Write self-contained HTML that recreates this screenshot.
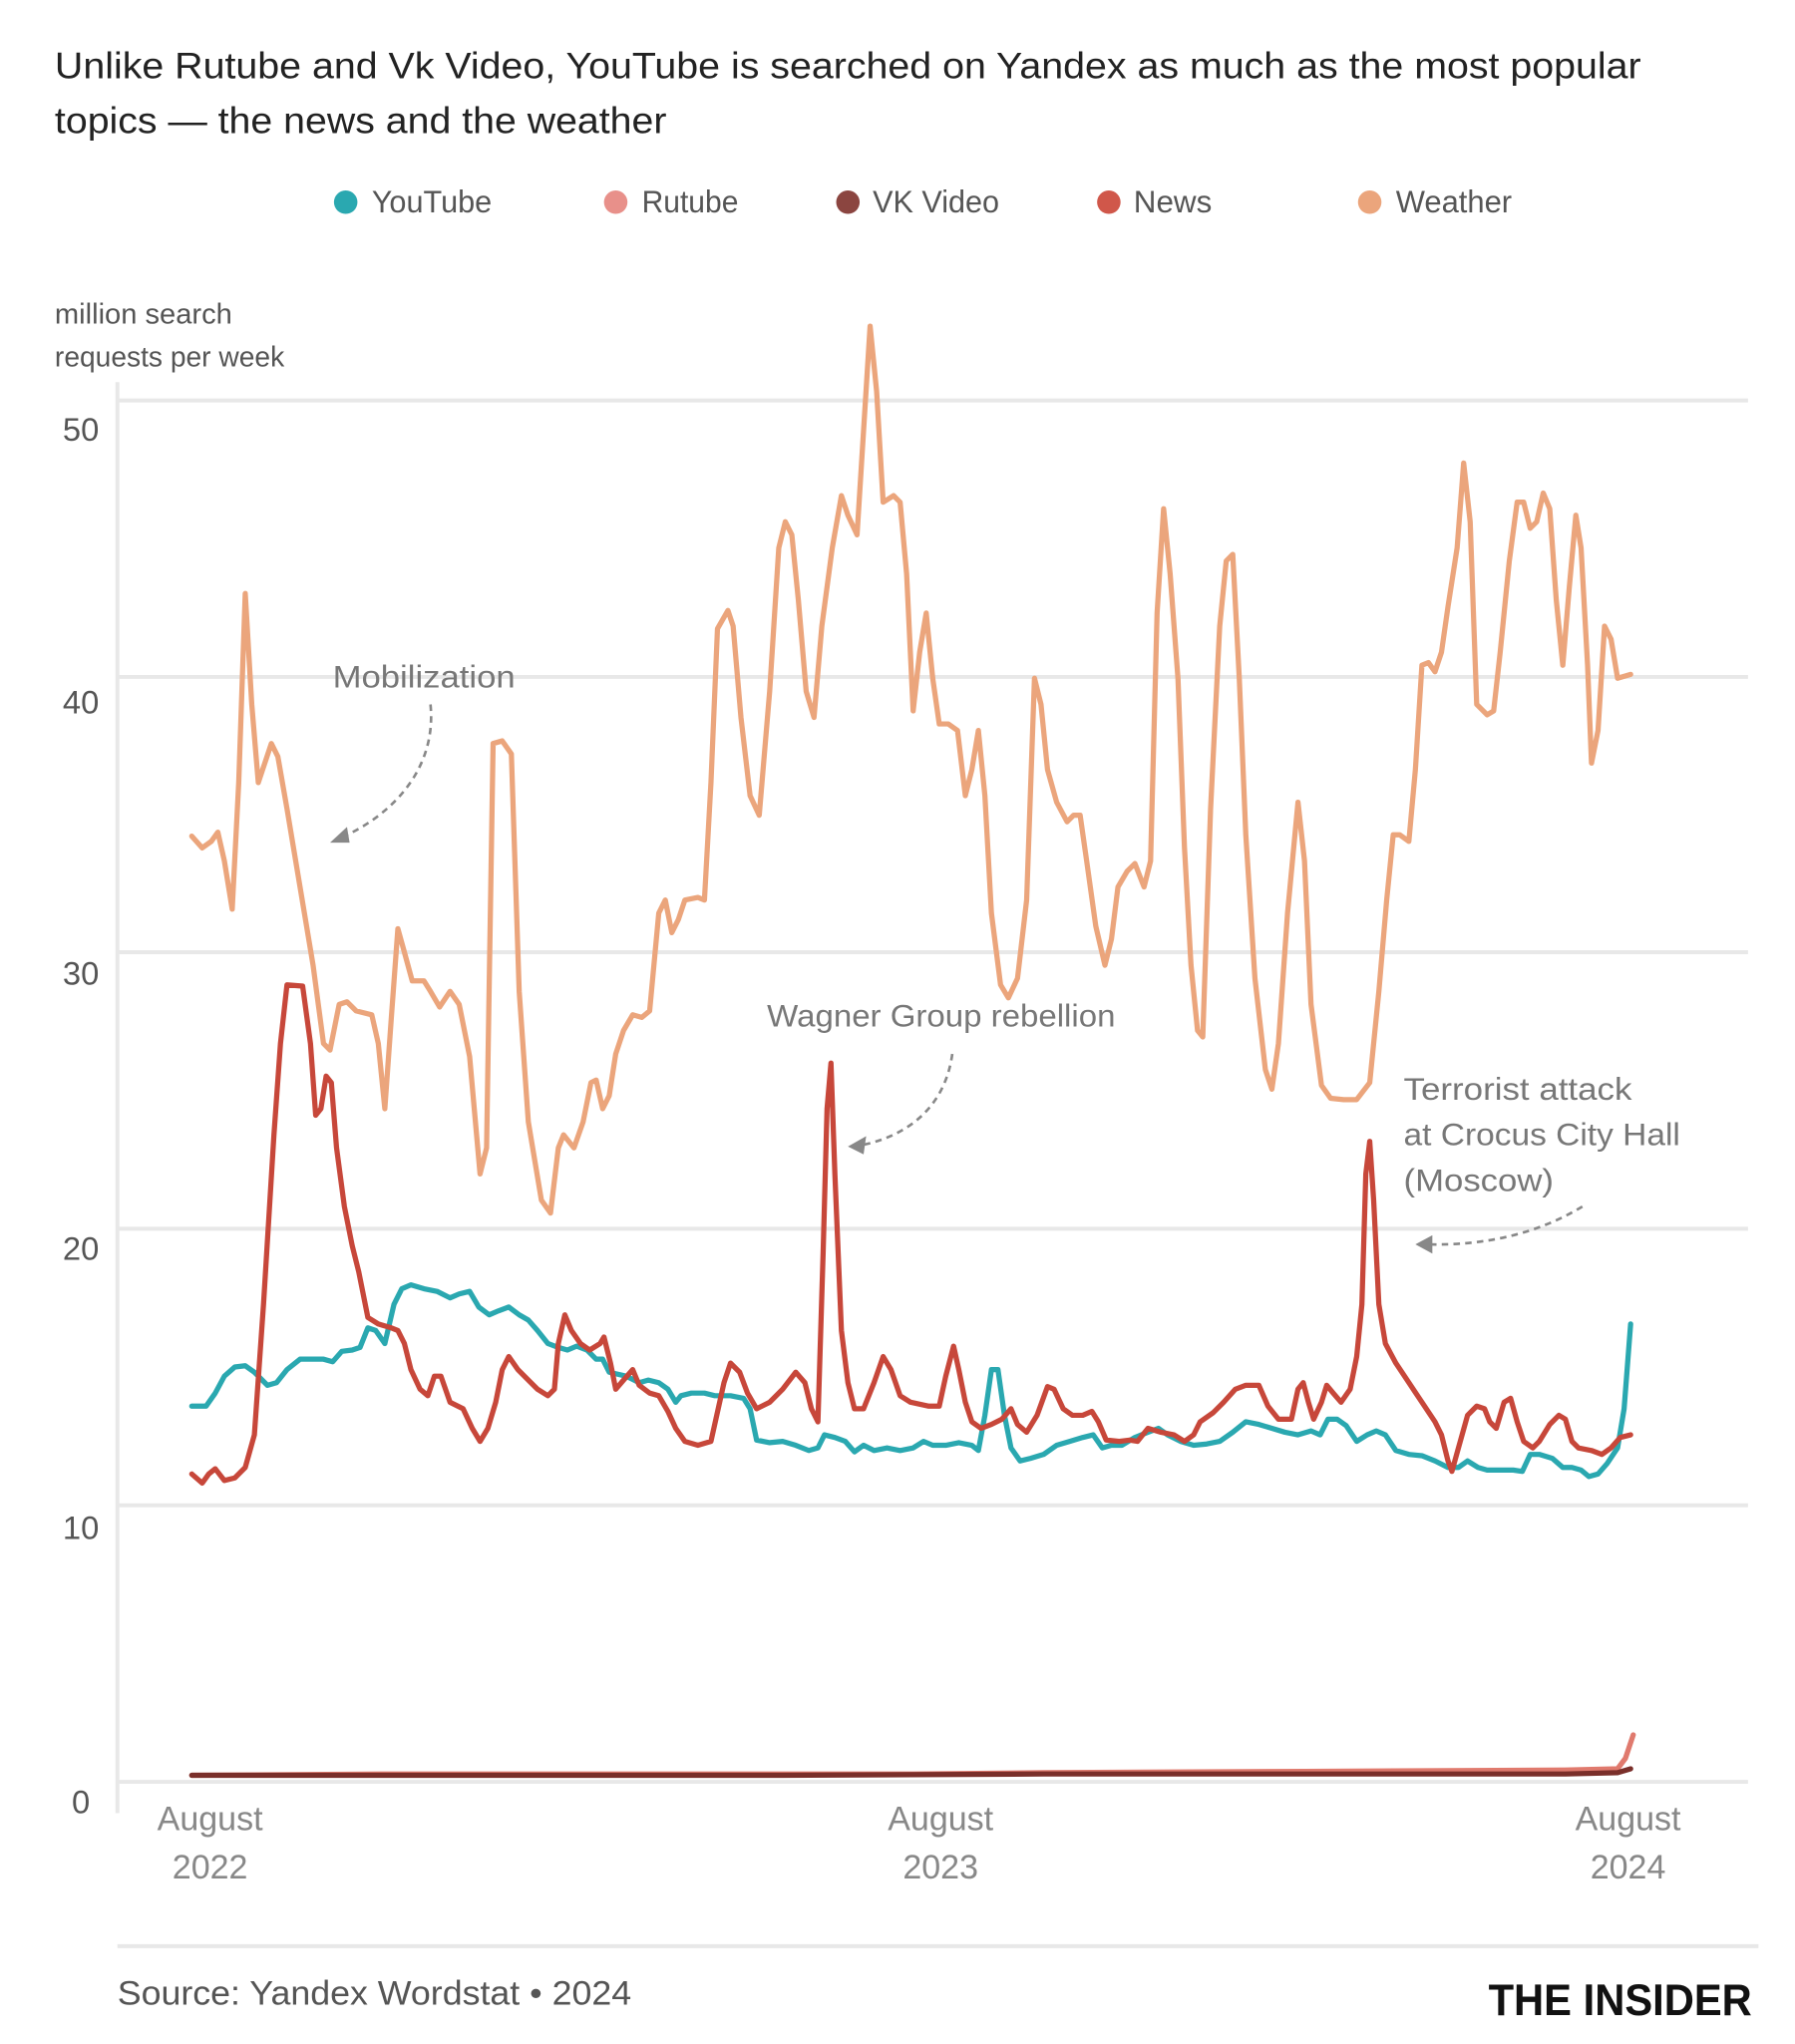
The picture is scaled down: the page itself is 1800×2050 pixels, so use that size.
<!DOCTYPE html>
<html><head><meta charset="utf-8"><style>
html,body{margin:0;padding:0;background:#fff;}
svg{display:block;}
text{font-family:"Liberation Sans",sans-serif;}
</style></head><body>
<svg width="1800" height="2050" viewBox="0 0 1376 1567" preserveAspectRatio="none">
<text x="42" y="60" font-size="28" fill="#222" textLength="1216" lengthAdjust="spacingAndGlyphs">Unlike Rutube and Vk Video, YouTube is searched on Yandex as much as the most popular</text>
<text x="42" y="102" font-size="28" fill="#222" textLength="469" lengthAdjust="spacingAndGlyphs">topics — the news and the weather</text>
<g font-size="24" fill="#555">
<circle cx="265" cy="155" r="9" fill="#2aa8b0"/><text x="285" y="163" textLength="92" lengthAdjust="spacingAndGlyphs">YouTube</text>
<circle cx="472" cy="155" r="9" fill="#e8908a"/><text x="492" y="163" textLength="74" lengthAdjust="spacingAndGlyphs">Rutube</text>
<circle cx="650" cy="155" r="9" fill="#8b4540"/><text x="669" y="163" textLength="97" lengthAdjust="spacingAndGlyphs">VK Video</text>
<circle cx="850" cy="155" r="9" fill="#d0574a"/><text x="869" y="163" textLength="60" lengthAdjust="spacingAndGlyphs">News</text>
<circle cx="1050" cy="155" r="9" fill="#eba57c"/><text x="1070" y="163" textLength="89" lengthAdjust="spacingAndGlyphs">Weather</text>
</g>
<g font-size="22" fill="#555">
<text x="42" y="248" textLength="136" lengthAdjust="spacingAndGlyphs">million search</text>
<text x="42" y="281" textLength="176" lengthAdjust="spacingAndGlyphs">requests per week</text>
</g>
<g stroke="#e8e8e8" stroke-width="3">
<line x1="90" y1="307" x2="1340" y2="307"/><line x1="90" y1="519" x2="1340" y2="519"/>
<line x1="90" y1="730" x2="1340" y2="730"/><line x1="90" y1="942" x2="1340" y2="942"/>
<line x1="90" y1="1154" x2="1340" y2="1154"/><line x1="90" y1="1366" x2="1340" y2="1366"/>
<line x1="90" y1="293" x2="90" y2="1390"/>
<line x1="90" y1="1492" x2="1348" y2="1492"/>
</g>
<g font-size="25" fill="#555" text-anchor="middle">
<text x="62" y="338">50</text><text x="62" y="547">40</text><text x="62" y="755">30</text>
<text x="62" y="966">20</text><text x="62" y="1180">10</text><text x="62" y="1390">0</text>
</g>
<g font-size="26" fill="#888" text-anchor="middle">
<text x="161" y="1403">August</text><text x="161" y="1440">2022</text>
<text x="721" y="1403">August</text><text x="721" y="1440">2023</text>
<text x="1248" y="1403">August</text><text x="1248" y="1440">2024</text>
</g>
<g fill="none" stroke-linejoin="round" stroke-linecap="round">
<polyline stroke="#eba57c" stroke-width="4" points="147,641 155,650 162,645 167,638 172,660 178,697 183,600 188,455 193,540 198,600 203,585 208,570 213,580 220,620 230,680 240,740 248,800 253,805 260,770 266,768 273,775 285,778 290,800 295,850 300,780 305,712 310,730 316,752 325,752 330,760 337,772 345,760 352,770 360,810 368,900 373,880 378,570 385,568 392,578 398,760 405,860 415,920 422,930 428,880 432,870 440,880 447,860 453,830 457,828 462,850 467,840 472,808 478,790 485,778 492,780 498,775 505,700 510,690 515,715 520,705 525,690 535,688 540,690 545,600 550,482 558,468 562,480 568,550 575,610 582,625 590,530 597,420 602,400 607,410 612,460 618,530 624,550 630,480 638,420 645,380 650,395 657,410 662,330 667,250 672,300 677,385 685,380 690,385 695,440 700,545 705,500 710,470 715,520 720,555 727,555 734,560 740,610 745,590 750,560 755,610 760,700 767,755 773,765 780,750 787,690 793,520 798,540 803,590 810,615 818,630 823,625 828,625 833,660 840,710 847,740 852,720 857,680 864,668 870,662 877,680 882,660 887,470 892,390 897,440 903,520 908,650 913,740 918,790 922,795 928,620 935,480 940,430 945,425 950,520 955,640 962,750 970,820 975,835 980,800 987,700 995,615 1000,660 1005,770 1013,832 1020,842 1030,843 1040,843 1050,830 1057,760 1063,690 1068,640 1073,640 1080,645 1085,590 1090,510 1095,508 1100,515 1105,500 1110,465 1117,420 1122,355 1127,400 1132,540 1140,548 1145,545 1150,500 1157,430 1163,385 1168,385 1173,405 1178,400 1183,378 1188,390 1193,460 1198,510 1203,450 1208,395 1212,420 1217,510 1220,585 1225,560 1230,480 1235,490 1240,520 1250,517"/>
<polyline stroke="#2aa8b0" stroke-width="4" points="147,1078 158,1078 165,1068 172,1055 180,1048 188,1047 195,1052 205,1062 212,1060 220,1050 230,1042 240,1042 248,1042 255,1044 262,1036 270,1035 276,1033 282,1018 288,1020 295,1030 302,1000 308,988 315,985 325,988 335,990 345,995 352,992 360,990 367,1002 375,1008 382,1005 390,1002 398,1008 405,1012 412,1020 420,1030 428,1033 435,1035 442,1032 450,1035 457,1042 462,1042 467,1052 480,1055 490,1060 497,1058 505,1060 512,1065 518,1075 522,1070 530,1068 540,1068 548,1070 560,1070 570,1072 575,1080 580,1104 590,1106 600,1105 610,1108 620,1112 627,1110 632,1100 640,1102 648,1105 655,1113 662,1108 670,1112 680,1110 690,1112 700,1110 708,1105 715,1108 725,1108 735,1106 745,1108 750,1112 755,1085 760,1050 765,1050 770,1085 775,1110 782,1120 790,1118 800,1115 810,1108 820,1105 830,1102 838,1100 845,1110 852,1108 860,1108 870,1102 880,1098 888,1095 895,1100 905,1105 915,1108 925,1107 935,1105 945,1098 955,1090 965,1092 975,1095 985,1098 995,1100 1005,1097 1012,1100 1018,1088 1025,1088 1032,1093 1040,1105 1048,1100 1055,1097 1062,1100 1070,1112 1080,1115 1090,1116 1100,1120 1110,1125 1118,1125 1125,1120 1133,1125 1140,1127 1150,1127 1160,1127 1167,1128 1173,1115 1180,1115 1190,1118 1198,1125 1205,1125 1212,1127 1218,1132 1225,1130 1232,1122 1240,1110 1245,1080 1250,1015"/>
<polyline stroke="#c7473a" stroke-width="4" points="147,1130 155,1137 160,1130 165,1126 172,1135 180,1133 188,1125 195,1100 202,1000 210,870 215,800 220,755 232,756 238,800 242,855 246,850 250,825 254,830 258,880 264,925 270,955 275,975 282,1010 290,1015 300,1018 305,1020 310,1030 315,1050 322,1065 328,1070 333,1055 338,1055 345,1075 355,1080 362,1095 368,1105 374,1095 380,1075 385,1050 390,1040 397,1050 405,1058 412,1065 420,1070 425,1065 428,1030 433,1008 438,1020 445,1030 452,1035 460,1030 463,1025 468,1045 472,1065 478,1058 485,1050 490,1062 498,1068 505,1070 512,1082 518,1095 525,1105 535,1108 545,1105 555,1060 560,1045 567,1052 573,1068 580,1080 590,1075 600,1065 610,1052 617,1060 622,1080 627,1090 631,960 634,850 637,815 640,900 645,1020 650,1060 655,1080 662,1080 670,1060 677,1040 683,1050 690,1070 698,1075 712,1078 720,1078 725,1055 731,1032 735,1050 740,1075 745,1090 752,1095 760,1092 768,1088 775,1080 780,1092 787,1098 795,1085 803,1063 808,1065 815,1080 822,1085 830,1085 837,1082 842,1090 848,1104 858,1105 866,1104 872,1105 880,1095 890,1098 900,1100 908,1105 915,1100 920,1090 930,1083 938,1075 947,1065 955,1062 965,1062 972,1078 980,1088 990,1088 995,1065 999,1060 1003,1075 1007,1088 1013,1075 1017,1062 1022,1068 1028,1075 1035,1065 1040,1040 1044,1000 1047,900 1050,875 1053,920 1057,1000 1062,1030 1070,1045 1080,1060 1090,1075 1100,1090 1105,1100 1110,1120 1113,1128 1118,1110 1125,1085 1132,1078 1138,1080 1142,1090 1147,1095 1153,1075 1158,1072 1163,1090 1168,1105 1175,1110 1180,1105 1188,1092 1195,1085 1200,1088 1205,1105 1210,1110 1220,1112 1228,1115 1235,1110 1242,1102 1250,1100"/>
<polyline stroke="#e07a6e" stroke-width="4" points="147,1361 300,1360 500,1360 700,1360 800,1359 1000,1358 1200,1357 1240,1356 1246,1348 1252,1330"/>
<polyline stroke="#7a2f2a" stroke-width="4" points="147,1361 400,1361 600,1361 800,1360 1000,1360 1200,1360 1240,1359 1250,1356"/>
</g>
<g font-size="24" fill="#777">
<text x="255" y="527" textLength="140" lengthAdjust="spacingAndGlyphs">Mobilization</text>
<text x="588" y="787" textLength="267" lengthAdjust="spacingAndGlyphs">Wagner Group rebellion</text>
<text x="1076" y="843" textLength="175" lengthAdjust="spacingAndGlyphs">Terrorist attack</text>
<text x="1076" y="878" textLength="212" lengthAdjust="spacingAndGlyphs">at Crocus City Hall</text>
<text x="1076" y="913" textLength="115" lengthAdjust="spacingAndGlyphs">(Moscow)</text>
</g>
<g fill="none" stroke="#888" stroke-width="2" stroke-dasharray="5,4">
<path d="M330,540 C335,590 300,625 262,642"/>
<path d="M730,808 C725,845 700,870 660,878"/>
<path d="M1213,925 C1180,945 1140,955 1095,954"/>
</g>
<g fill="#888">
<polygon points="253,646 266,634 268,646"/>
<polygon points="650,879 664,871 662,885"/>
<polygon points="1085,954 1098,947 1098,961"/>
</g>
<text x="90" y="1537" font-size="26" fill="#555" textLength="394" lengthAdjust="spacingAndGlyphs">Source: Yandex Wordstat • 2024</text>
<text x="1343" y="1545" font-size="34" font-weight="bold" fill="#111" text-anchor="end" textLength="202" lengthAdjust="spacingAndGlyphs">THE INSIDER</text>
</svg>
</body></html>
